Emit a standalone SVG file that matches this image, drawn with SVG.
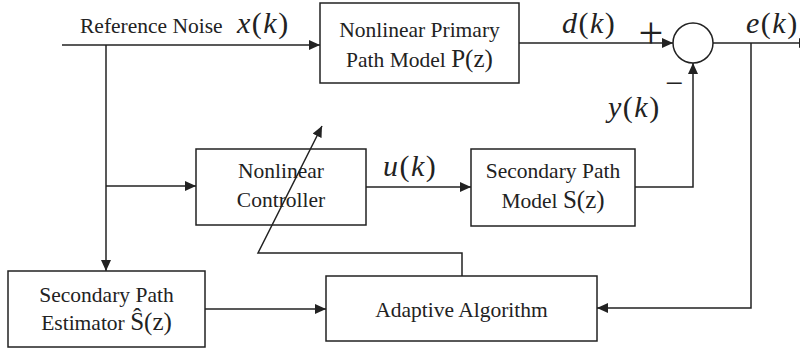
<svg xmlns="http://www.w3.org/2000/svg" width="800" height="350" viewBox="0 0 800 350">
<style>
.box{fill:#fff;stroke:#222;stroke-width:1.5}
.ln{fill:none;stroke:#222;stroke-width:1.5}
.t{font-family:"Liberation Serif","Times New Roman",serif;font-size:21.5px;fill:#222;text-anchor:middle}
.tl{font-family:"Liberation Serif","Times New Roman",serif;font-size:21.5px;fill:#222}
.m{font-family:"Liberation Serif","Times New Roman",serif;font-size:30px;fill:#222;font-style:italic;letter-spacing:1.5px}
.u{font-style:normal}
.b{font-size:25px}
</style>
<defs>
<marker id="ah" markerWidth="11" markerHeight="10" refX="11" refY="5" orient="auto" markerUnits="userSpaceOnUse">
<path d="M0,0 L11,5 L0,10 Z" fill="#222"/>
</marker>
</defs>
<rect width="800" height="350" fill="#fff"/>
<g id="connectors">
<line class="ln" x1="62" y1="45" x2="320" y2="45" marker-end="url(#ah)"/>
<line class="ln" x1="106" y1="45" x2="106" y2="271" marker-end="url(#ah)"/>
<line class="ln" x1="106" y1="186" x2="196" y2="186" marker-end="url(#ah)"/>
<line class="ln" x1="519" y1="43" x2="673" y2="43" marker-end="url(#ah)"/>
<line class="ln" x1="713" y1="43" x2="810" y2="43" marker-end="url(#ah)"/>
<line class="ln" x1="366" y1="187" x2="471" y2="187" marker-end="url(#ah)"/>
<polyline class="ln" points="635,187 693,187 693,63" marker-end="url(#ah)"/>
<polyline class="ln" points="751,43 751,308 597,308" marker-end="url(#ah)"/>
<line class="ln" x1="205" y1="309" x2="326" y2="309" marker-end="url(#ah)"/>
<polyline class="ln" points="462,276 462,253 258,253 322,126" marker-end="url(#ah)"/>
</g>
<g id="sum">
<circle cx="693" cy="43" r="20" class="box"/>
</g>
<g id="primary">
<rect class="box" x="320" y="3" width="199" height="80"/>
<text class="t" x="419.5" y="37">Nonlinear Primary</text>
<text class="t" x="419.5" y="67">Path Model <tspan class="b">P(z)</tspan></text>
</g>
<g id="controller">
<rect class="box" x="196" y="149" width="170" height="76" fill-opacity="0"/>
<text class="t" x="281" y="178">Nonlinear</text>
<text class="t" x="281" y="207">Controller</text>
</g>
<g id="secondary">
<rect class="box" x="471" y="149" width="164" height="77"/>
<text class="t" x="553" y="178">Secondary Path</text>
<text class="t" x="553" y="208">Model <tspan class="b">S(z)</tspan></text>
</g>
<g id="estimator">
<rect class="box" x="8" y="271" width="197" height="76"/>
<text class="t" x="106.5" y="302">Secondary Path</text>
<text class="t" x="106.5" y="330">Estimator <tspan class="b">Ŝ(z)</tspan></text>
</g>
<g id="adaptive">
<rect class="box" x="326" y="276" width="271" height="65"/>
<text class="t" x="461.5" y="317">Adaptive Algorithm</text>
</g>
<g id="labels">
<text class="tl" x="80" y="33">Reference Noise</text>
<text class="m" x="237" y="33">x<tspan class="u">(</tspan>k<tspan class="u">)</tspan></text>
<text class="m" x="562" y="33">d<tspan class="u">(</tspan>k<tspan class="u">)</tspan></text>
<text class="m" x="746" y="33">e<tspan class="u">(</tspan>k<tspan class="u">)</tspan></text>
<text class="m" x="608" y="117">y<tspan class="u">(</tspan>k<tspan class="u">)</tspan></text>
<text class="m" x="383" y="176">u<tspan class="u">(</tspan>k<tspan class="u">)</tspan></text>
<text class="tl" x="651" y="48" style="font-size:44px;text-anchor:middle">+</text>
<text class="tl" x="674" y="94" style="font-size:32px;text-anchor:middle">−</text>
</g>
</svg>
